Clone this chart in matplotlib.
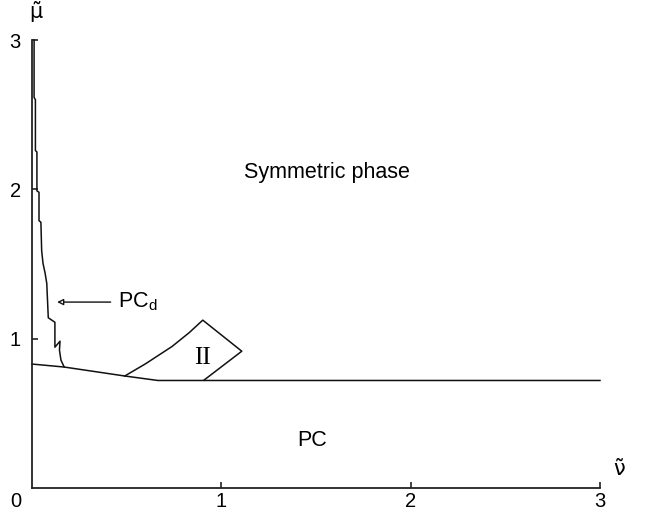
import matplotlib
matplotlib.use("Agg")
import matplotlib.pyplot as plt

# PC_d staircase boundary (nu, mu)
pcd_nu = [0.011, 0.011, 0.018, 0.018, 0.026, 0.026, 0.037, 0.037, 0.047, 0.051,
          0.058, 0.069, 0.078, 0.086, 0.121, 0.121, 0.148, 0.145, 0.153, 0.170]
pcd_mu = [3.00, 2.615, 2.60, 2.26, 2.25, 1.99, 1.98, 1.79, 1.78, 1.59,
          1.505, 1.44, 1.37, 1.14, 1.11, 0.943, 0.983, 0.923, 0.856, 0.81]

# lower boundary between PC and the other phases
low_nu = [0.0, 0.17, 0.49, 0.665, 3.0]
low_mu = [0.83, 0.81, 0.75, 0.72, 0.72]

# region II outline
ii_nu = [0.49, 0.60, 0.74, 0.83, 0.902, 1.108, 0.908]
ii_mu = [0.75, 0.832, 0.948, 1.04, 1.124, 0.916, 0.722]

xticks = [1, 2, 3]
yticks = [1, 2, 3]

lc = "#111111"
fig = plt.figure(figsize=(6.58, 5.19), dpi=100)
ax = fig.add_axes([32/658, 31/519, 568/658, 448/519])
ax.set_xlim(0, 3)
ax.set_ylim(0, 3)
for s in ["top", "right"]:
    ax.spines[s].set_visible(False)
for s in ["left", "bottom"]:
    ax.spines[s].set_linewidth(1.3)
    ax.spines[s].set_color("#222222")

ax.plot(pcd_nu, pcd_mu, color=lc, lw=1.1, clip_on=False)
ax.plot(low_nu, low_mu, color=lc, lw=1.1, clip_on=False)
ax.plot(ii_nu, ii_mu, color=lc, lw=1.1, clip_on=False)

ax.set_xticks(xticks)
ax.set_yticks(yticks)
ax.set_xticklabels([str(t) for t in xticks])
ax.set_yticklabels([str(t) for t in yticks])
ax.tick_params(direction="in", length=4, width=1.2, color="#222222",
               labelsize=14.5, pad=3)
for lab in ax.get_xticklabels() + ax.get_yticklabels():
    lab.set_family("Liberation Sans")
ax.tick_params(axis="y", pad=8)

ax.text(-0.085, -0.03, "0", ha="center", va="top", fontsize=14.5,
        family="Liberation Sans", transform=ax.transData, clip_on=False)

ax.text(0.02, 3.12, "μ\u0303", ha="center", va="bottom", fontsize=15,
        family="DejaVu Sans", clip_on=False)
ax.text(3.1, 0.06, "ν\u0303", ha="center", va="bottom", fontsize=15,
        family="DejaVu Sans", clip_on=False)

ax.text(1.56, 2.11, "Symmetric phase", ha="center", va="center", fontsize=15.5,
        family="Liberation Sans")
ax.text(1.48, 0.32, "PC", ha="center", va="center", fontsize=15.5,
        family="Liberation Sans")
ax.text(0.9, 0.87, "II", ha="center", va="center", fontsize=18,
        family="Liberation Serif")

ax.annotate("", xy=(0.118, 1.245), xytext=(0.43, 1.245),
            arrowprops=dict(arrowstyle="-|>", color=lc, lw=1.0,
                            mutation_scale=9, fc="white"))
ax.text(0.455, 1.245, r"PC$_\mathregular{d}$", ha="left", va="center",
        fontsize=15.5, family="Liberation Sans")

fig.savefig("out.png", dpi=100)
